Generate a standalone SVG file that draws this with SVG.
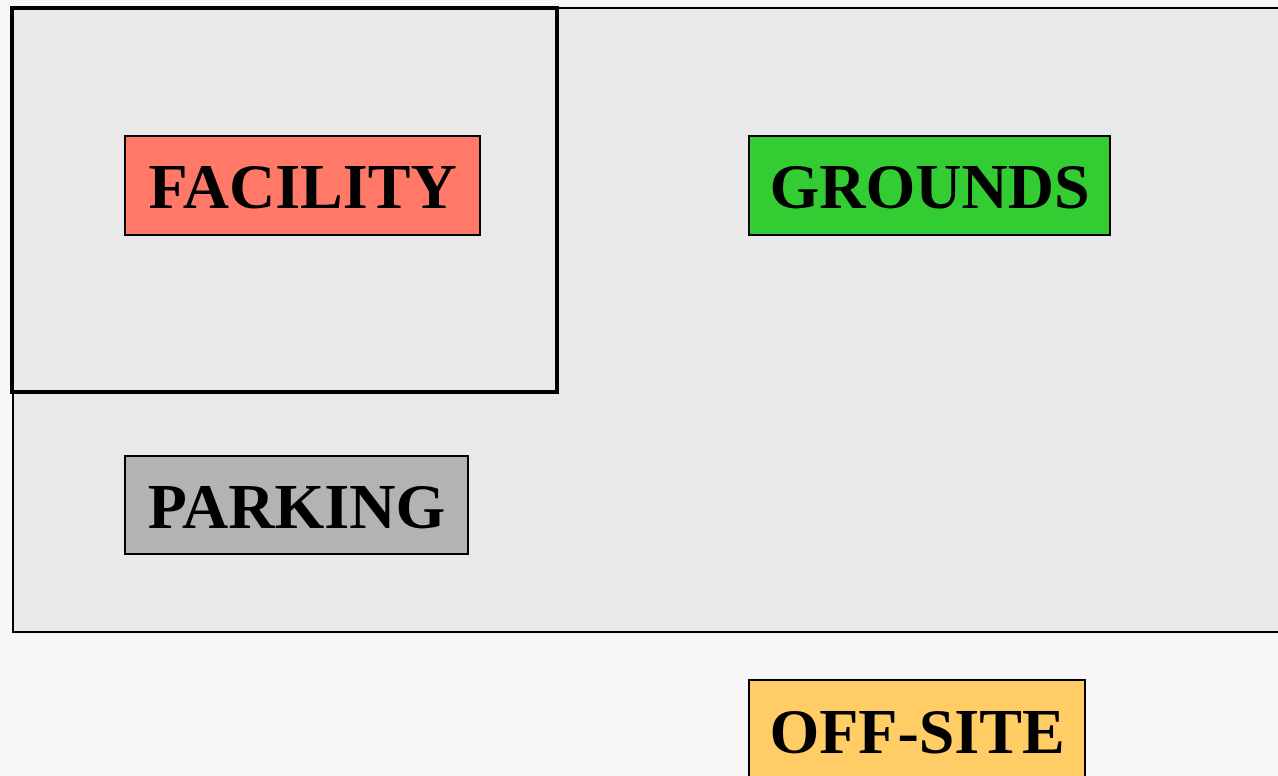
<svg xmlns="http://www.w3.org/2000/svg" width="1278" height="776" viewBox="0 0 1278 776">
<style>
.zone{fill:#e9e9e9;stroke:#000;stroke-width:2}
.frame{fill:none;stroke:#000;stroke-width:4}
.box{stroke:#000;stroke-width:2}
.lbl{font-family:"Liberation Serif","Times New Roman",serif;font-weight:bold;font-size:64px;text-anchor:middle;fill:#000}
</style>
<rect width="1278" height="776" fill="#f7f7f7"/>
<rect class="zone" x="13" y="8" width="1280" height="624"/>
<g id="facility-area"><rect class="frame" x="12" y="8" width="545" height="384"/></g>
<g id="facility"><rect class="box" x="125" y="136" width="355" height="99" fill="#ff7868"/><text class="lbl" x="302.5" y="208">FACILITY</text></g>
<g id="grounds"><rect class="box" x="749" y="136" width="361" height="99" fill="#33cc33"/><text class="lbl" x="929.5" y="208">GROUNDS</text></g>
<g id="parking"><rect class="box" x="125" y="456" width="343" height="98" fill="#b3b3b3"/><text class="lbl" x="296.5" y="528">PARKING</text></g>
<g id="offsite"><rect class="box" x="749" y="680" width="336" height="110" fill="#ffcc66"/><text class="lbl" x="917" y="753">OFF-SITE</text></g>
<g id="connectors"/>
</svg>
